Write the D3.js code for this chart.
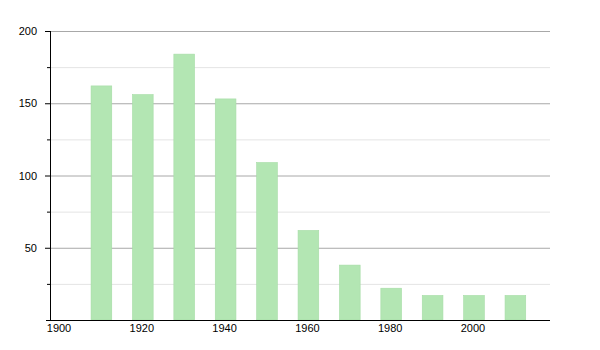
<!DOCTYPE html>
<html>
<head>
<meta charset="utf-8">
<script src="https://cdn.jsdelivr.net/npm/d3@7"></script>
<style>
  body { margin: 0; background: #fff; }
  text { font-family: "Liberation Sans", Arial, sans-serif; font-size: 11px; fill: #000; }
</style>
</head>
<body>
<div id="chart"></div>
<script>
// Data
const years = [1910, 1920, 1930, 1940, 1950, 1960, 1970, 1980, 1990, 2000, 2010];
const values = [162, 156, 184, 153, 109, 62, 38, 22, 17, 17, 17];
const xTickYears = [1900, 1920, 1940, 1960, 1980, 2000];
const yMajorTicks = [50, 100, 150, 200];
const yMinorTicks = [25, 75, 125, 175];

const width = 600, height = 350;
const plotLeft = 50, plotRight = 550, plotTop = 31, plotBottom = 320;

const svg = d3.select('#chart').append('svg')
    .attr('width', width)
    .attr('height', height);

const x = d3.scaleLinear().domain([1897.58, 2018.36]).range([plotLeft, plotRight]);
const y = d3.scaleLinear().domain([0, 200]).range([plotBottom, plotTop]);

// minor gridlines
svg.append('g').selectAll('line').data(yMinorTicks).join('line')
    .attr('x1', plotLeft).attr('x2', plotRight)
    .attr('y1', d => y(d) + 0.5).attr('y2', d => y(d) + 0.5)
    .attr('stroke', '#e4e4e4');

// major gridlines
svg.append('g').selectAll('line').data(yMajorTicks).join('line')
    .attr('x1', plotLeft).attr('x2', plotRight)
    .attr('y1', d => y(d) + 0.5).attr('y2', d => y(d) + 0.5)
    .attr('stroke', '#a8a8a8');

// bars
svg.append('g').selectAll('rect').data(years).join('rect')
    .attr('x', d => x(d - 2.5))
    .attr('width', x(5) - x(0))
    .attr('y', (d, i) => y(values[i]))
    .attr('height', (d, i) => y(0) - y(values[i]))
    .attr('fill', '#b3e6b3')
    .attr('stroke', '#a6dca6')
    .attr('stroke-width', 0.6);

// y axis line and ticks
svg.append('line')
    .attr('x1', plotLeft + 0.5).attr('x2', plotLeft + 0.5)
    .attr('y1', plotTop).attr('y2', plotBottom)
    .attr('stroke', '#000');

svg.append('g').selectAll('line').data(yMajorTicks).join('line')
    .attr('x1', plotLeft - 5).attr('x2', plotLeft)
    .attr('y1', d => y(d) + 0.5).attr('y2', d => y(d) + 0.5)
    .attr('stroke', '#000');

svg.append('g').selectAll('line').data(yMinorTicks).join('line')
    .attr('x1', plotLeft - 3).attr('x2', plotLeft)
    .attr('y1', d => y(d) + 0.5).attr('y2', d => y(d) + 0.5)
    .attr('stroke', '#000');

svg.append('g').selectAll('text').data(yMajorTicks).join('text')
    .attr('x', 37)
    .attr('y', d => y(d) + 4)
    .attr('text-anchor', 'end')
    .text(d => d);

// x axis
svg.append('line')
    .attr('x1', plotLeft - 4).attr('x2', plotRight)
    .attr('y1', plotBottom + 0.5).attr('y2', plotBottom + 0.5)
    .attr('stroke', '#000');

svg.append('g').selectAll('text').data(xTickYears).join('text')
    .attr('x', d => x(d) - 1)
    .attr('y', 332)
    .attr('text-anchor', 'middle')
    .text(d => d);
</script>
</body>
</html>
